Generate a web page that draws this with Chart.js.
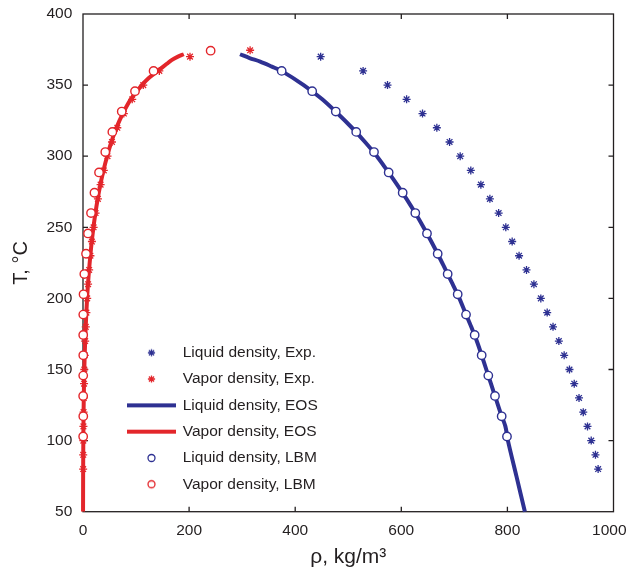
<!DOCTYPE html>
<html><head><meta charset="utf-8">
<script src="https://cdn.jsdelivr.net/npm/chart.js@4.4.1/dist/chart.umd.min.js"></script>
<style>html,body{margin:0;padding:0;background:#fff;}</style>
</head><body>
<canvas id="c" width="628" height="568"></canvas>
<script>
// ---- data (T in °C, rho in kg/m3) ----
const liquidExpT   = [370,360,350,340,330,320,310,300,290,280,270,260,250,240,230,220,210,200,190,180,170,160,150,140,130,120,110,100,90,80];
const liquidExpRho = [448,528,574,610,640,667,691,711,731,750,767,783.5,797,809,822,836,850,863,875,886,897,907,917,926,935,943,951,958,966,971];

const vaporExpT   = [374.5,370,360,350,340,330,320,310,300,290,280,270,260,250,240,230,220,210,200,190,180,170,160,150,140,130,120,110,100,90,80];
const vaporExpRho = [315,201.7,143.9,113.6,92.8,77.0,64.7,54.6,46.2,39.2,33.2,28.1,23.7,20.0,16.8,14.0,11.6,9.6,7.9,6.4,5.2,4.1,3.3,2.5,2.0,1.5,1.1,0.8,0.6,0.4,0.3];

const liquidEosT   = [371.7,369,366.5,363,360,350,340,330,320,310,300,290,280,270,260,250,240,230,220,210,200,190,180,170,160,150,140,130,120,110,100,75,50];
const liquidEosRho = [296,314,334,356,374,416,451,480,507,531.6,554,573.3,592,609.8,626.4,641.8,656.5,670.4,683.6,696.8,709.5,720.5,731.8,742.3,751.5,760.2,769,777.8,786.6,796.2,801,817,833];

const vaporEosT   = [371.7,370,367.6,365,360,355,350,340,330,320,310,300,290,280,270,260,250,240,230,220,210,200,180,160,140,120,100,75,50];
const vaporEosRho = [190,179,167,158,141,124,111,90,75,63,53.5,45.5,38.6,32.7,27.7,23.4,19.7,16.5,13.8,11.4,9.4,7.7,5.1,3.2,1.9,1.1,0.6,0.25,0.1];

const liquidLbmT   = [360,345.7,331.4,317.1,302.9,288.6,274.3,260,245.7,231.4,217.1,202.9,188.6,174.3,160,145.7,131.4,117.1,102.9];
const liquidLbmRho = [374.5,432,476.5,515,548.5,576.2,602.6,626.4,648.4,668.6,687.4,706.3,722,738.3,751.5,764,776.6,789.2,799.2];

const vaporLbmT   = [374.2,360,345.7,331.4,317.1,302.9,288.6,274.3,260,245.7,231.4,217.1,202.9,188.6,174.3,160,145.7,131.4,117.1,102.9];
const vaporLbmRho = [240.6,133,98,73,55.3,42,30.2,21.6,15.1,9.4,5.7,2.5,1.0,0.5,0.4,0.5,0.4,0.3,0.5,0.3];

const xTicks = [0,200,400,600,800,1000];
const yTicks = [50,100,150,200,250,300,350,400];

const labels = ['Liquid density, Exp.','Vapor density, Exp.','Liquid density, EOS','Vapor density, EOS','Liquid density, LBM','Vapor density, LBM'];

const BLUE = '#2e3192', RED = '#e3262b', INK = '#231f20';
const FONT = "'Liberation Sans', Arial, sans-serif";

const pts = (xs, ys) => xs.map((v, i) => ({x: ys[i], y: v}));

function icon(kind, color) {
  const c = document.createElement('canvas'); c.width = 49; c.height = 12;
  const g = c.getContext('2d'); g.strokeStyle = color; g.fillStyle = '#fff'; g.lineWidth = 1.3;
  const cx = 24.5, cy = 6;
  if (kind === 'line') { g.lineWidth = 4; g.beginPath(); g.moveTo(0, cy); g.lineTo(49, cy); g.stroke(); }
  else if (kind === 'star') { const r = 3.6; g.beginPath(); for (let k = 0; k < 4; k++) { const a = k * Math.PI / 4; g.moveTo(cx - r * Math.cos(a), cy - r * Math.sin(a)); g.lineTo(cx + r * Math.cos(a), cy + r * Math.sin(a)); } g.stroke(); }
  else { g.beginPath(); g.arc(cx, cy, 3.5, 0, 2 * Math.PI); g.fill(); g.stroke(); }
  return c;
}
const legendIcons = [icon('star', BLUE), icon('star', RED), icon('line', BLUE), icon('line', RED), icon('circle', BLUE), icon('circle', RED)];

const framePlugin = {
  id: 'frame',
  beforeDraw(chart) {
    // keep the last x tick label ("1000") inside the canvas, as in the reference
    const xs = chart.scales.x;
    const items = xs.getLabelItems(chart.chartArea);
    if (items && items.length) {
      const last = items[items.length - 1];
      last.options.textAlign = 'right';
      last.options.translation[0] = chart.width - 1.5;
    }
  },
  beforeDatasetsDraw(chart) {
    const {ctx, chartArea: a, scales: {x, y}} = chart;
    ctx.save();
    ctx.strokeStyle = INK; ctx.lineWidth = 1.3;
    ctx.strokeRect(a.left, a.top, a.right - a.left, a.bottom - a.top);
    const L = 5;
    ctx.beginPath();
    x.ticks.forEach(t => { const p = x.getPixelForValue(t.value); if (p <= a.left + 1 || p >= a.right - 1) return;
      ctx.moveTo(p, a.bottom); ctx.lineTo(p, a.bottom - L); ctx.moveTo(p, a.top); ctx.lineTo(p, a.top + L); });
    y.ticks.forEach(t => { const p = y.getPixelForValue(t.value); if (p <= a.top + 1 || p >= a.bottom - 1) return;
      ctx.moveTo(a.left, p); ctx.lineTo(a.left + L, p); ctx.moveTo(a.right, p); ctx.lineTo(a.right - L, p); });
    ctx.stroke(); ctx.restore();
  }
};

const LEG_X = 117.2, LEG_Y = 334.2;
const legendPlace = {
  id: 'legendPlace',
  afterLayout(chart) {
    const lg = chart.legend; if (!lg) return;
    const w = lg.width, h = lg.height;
    lg.left = LEG_X; lg.top = LEG_Y; lg.right = LEG_X + w; lg.bottom = LEG_Y + h;
  }
};

new Chart(document.getElementById('c'), {
  type: 'scatter',
  data: {
    datasets: [
      {label: labels[0], data: pts(liquidExpT, liquidExpRho), pointStyle: 'star', radius: 4, borderColor: BLUE, backgroundColor: BLUE, borderWidth: 1.3, order: 1, clip: false},
      {label: labels[1], data: pts(vaporExpT, vaporExpRho), pointStyle: 'star', radius: 4, borderColor: RED, backgroundColor: RED, borderWidth: 1.3, order: 1, clip: false},
      {label: labels[2], data: pts(liquidEosT, liquidEosRho), showLine: true, pointRadius: 0, borderColor: BLUE, backgroundColor: BLUE, borderWidth: 4, tension: 0.3, order: 2, clip: 3},
      {label: labels[3], data: pts(vaporEosT, vaporEosRho), showLine: true, pointRadius: 0, borderColor: RED, backgroundColor: RED, borderWidth: 4, tension: 0.3, order: 2, clip: {left: 3, right: 3, top: 3, bottom: 0}},
      {label: labels[4], data: pts(liquidLbmT, liquidLbmRho), pointStyle: 'circle', radius: 4.2, borderColor: BLUE, backgroundColor: '#fff', borderWidth: 1.4, order: 0, clip: false},
      {label: labels[5], data: pts(vaporLbmT, vaporLbmRho), pointStyle: 'circle', radius: 4.2, borderColor: RED, backgroundColor: '#fff', borderWidth: 1.4, order: 0, clip: false}
    ]
  },
  options: {
    responsive: false, animation: false, devicePixelRatio: 1,
    layout: {padding: {left: 0, right: 14.5, top: 14, bottom: 0}},
    scales: {
      x: {
        type: 'linear', min: 0, max: 1000,
        afterBuildTicks: s => { s.ticks = xTicks.map(v => ({value: v})); },
        afterFit: s => { s.height = 56.3; s.paddingLeft = 0; s.paddingRight = 0; },
        grid: {display: false, drawTicks: false}, border: {display: false},
        ticks: {padding: 10, color: INK, font: {family: FONT, size: 15.5}, maxRotation: 0, callback: v => String(v)},
        title: {display: true, text: 'ρ, kg/m³', color: INK, font: {family: FONT, size: 21, lineHeight: 1}, padding: {top: 0, bottom: 0}}
      },
      y: {
        type: 'linear', min: 50, max: 400,
        afterBuildTicks: s => { s.ticks = yTicks.map(v => ({value: v})); },
        afterFit: s => { s.width = 83; s.paddingTop = 0; s.paddingBottom = 0; },
        grid: {display: false, drawTicks: false}, border: {display: false},
        ticks: {padding: 10.7, color: INK, font: {family: FONT, size: 15.5}, callback: v => String(v)},
        title: {display: true, text: 'T, °C', color: INK, font: {family: FONT, size: 20, lineHeight: 1}, padding: {top: 11.5, bottom: 0}}
      }
    },
    plugins: {
      tooltip: {enabled: false},
      legend: {
        position: 'chartArea', align: 'start',
        labels: {
          usePointStyle: true, pointStyleWidth: 47, padding: 10.8, color: INK,
          font: {family: FONT, size: 15.5},
          sort: (a, b) => a.datasetIndex - b.datasetIndex,
          generateLabels(chart) {
            const items = Chart.defaults.plugins.legend.labels.generateLabels(chart);
            items.forEach(it => { it.pointStyle = legendIcons[it.datasetIndex]; });
            return items;
          }
        }
      }
    }
  },
  plugins: [framePlugin, legendPlace]
});
</script>
</body></html>
